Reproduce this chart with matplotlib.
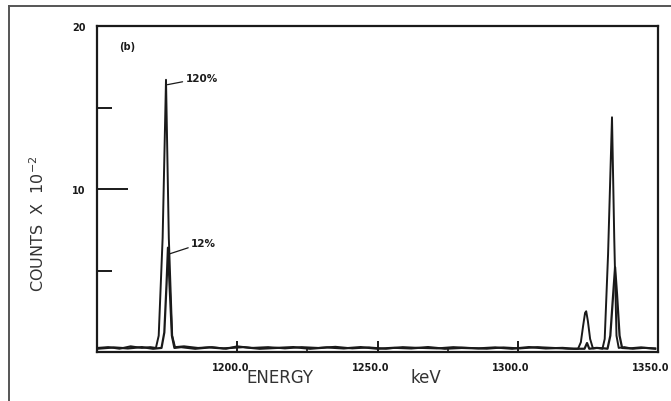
import matplotlib
matplotlib.use("Agg")
import matplotlib.pyplot as plt
from matplotlib.lines import Line2D
from matplotlib.transforms import ScaledTranslation

# ---- data (energy keV, counts x 10^-2) ----
E120 = [1150, 1154, 1158, 1162, 1166, 1169, 1171.0, 1172.0, 1173.4, 1174.6, 1175.6,
        1176.8, 1177.8, 1181, 1186, 1191, 1196, 1200, 1205, 1211, 1217, 1223, 1229,
        1235, 1241, 1247, 1253, 1259, 1265, 1271, 1277, 1283, 1289, 1295, 1301,
        1307, 1313, 1318, 1321.5, 1322.5, 1323.3, 1324.0, 1324.4, 1325.0, 1325.8,
        1326.8, 1328.5, 1330.2, 1331.0, 1332.2, 1333.6, 1334.4, 1335.2, 1336.0,
        1338, 1341, 1345, 1349]
C120 = [0.25, 0.30, 0.20, 0.35, 0.25, 0.30, 0.25, 1.0, 7.0, 16.7, 7.0,
        1.0, 0.30, 0.35, 0.25, 0.30, 0.20, 0.35, 0.25, 0.30, 0.22, 0.30, 0.25,
        0.32, 0.22, 0.28, 0.20, 0.30, 0.25, 0.22, 0.30, 0.25, 0.20, 0.28, 0.22,
        0.30, 0.25, 0.20, 0.20, 0.6, 1.6, 2.4, 2.5, 1.9, 0.8,
        0.22, 0.25, 0.20, 0.8, 6.0, 14.4, 7.0, 1.0, 0.25,
        0.30, 0.20, 0.25, 0.22]

E12 = [1150, 1156, 1161, 1166, 1170, 1173.0, 1174.0, 1174.8, 1175.3, 1175.9, 1176.7,
       1177.6, 1180, 1185, 1190, 1195, 1202, 1208, 1214, 1220, 1226, 1232, 1238,
       1244, 1250, 1256, 1262, 1268, 1274, 1280, 1286, 1292, 1298, 1304, 1310,
       1316, 1320, 1323.8, 1324.7, 1325.5, 1328, 1331, 1332.0, 1333.0, 1334.0,
       1334.7, 1335.4, 1336.3, 1337.2, 1340, 1344, 1349]
C12 = [0.20, 0.28, 0.22, 0.30, 0.20, 0.25, 1.2, 4.2, 6.4, 4.0, 1.0,
       0.25, 0.30, 0.20, 0.28, 0.22, 0.30, 0.20, 0.25, 0.30, 0.20, 0.28, 0.22,
       0.30, 0.20, 0.26, 0.22, 0.30, 0.20, 0.25, 0.22, 0.28, 0.20, 0.30, 0.22,
       0.25, 0.20, 0.20, 0.55, 0.20, 0.25, 0.22, 0.20, 1.0, 3.5,
       5.2, 3.5, 1.0, 0.25, 0.22, 0.28, 0.20]

x_major = [1200, 1250, 1300, 1350]
x_major_labels = ["1200.0", "1250.0", "1300.0", "1350.0"]
x_minor = [1225, 1275]
y_major = [10, 20]
y_major_labels = ["10", "20"]
y_minor = [5, 15]

ink = "#1a1a1a"

fig = plt.figure(figsize=(6.71, 4.02), dpi=100)
ax = fig.add_axes([97 / 671, 1 - 353 / 402, (658 - 97) / 671, (353 - 27) / 402])

ax.plot(E120, C120, color=ink, lw=1.4)
ax.plot(E12, C12, color=ink, lw=1.6)

ax.set_xlim(1150, 1350)
ax.set_ylim(0, 20)

for s in ax.spines.values():
    s.set_linewidth(1.6)
    s.set_color(ink)

ax.set_xticks(x_major)
ax.set_xticklabels(x_major_labels, fontsize=7, fontweight="bold", color=ink)
ax.set_xticks(x_minor, minor=True)
ax.set_yticks(y_major)
ax.set_yticklabels(y_major_labels, fontsize=7, fontweight="bold", color=ink)
ax.set_yticks(y_minor, minor=True)

ax.tick_params(axis="x", which="major", direction="in", length=8, width=1.4, pad=7, color=ink)
ax.tick_params(axis="x", which="minor", direction="in", length=3, width=1.2, color=ink)
ax.tick_params(axis="y", which="major", direction="in", length=22, width=1.4, pad=8, color=ink)
ax.tick_params(axis="y", which="minor", direction="in", length=11, width=1.4, color=ink)

off = ScaledTranslation(-7 / 100, 0, fig.dpi_scale_trans)
for lab in ax.get_xticklabels():
    lab.set_transform(lab.get_transform() + off)

# annotations
ax.text(1158, 18.8, "(b)", fontsize=7, fontweight="bold", color=ink, va="center")
ax.annotate("120%", xy=(1175.1, 16.4), xytext=(1181.5, 16.8), fontsize=7.5,
            fontweight="bold", color=ink, va="center",
            arrowprops=dict(arrowstyle="-", color=ink, lw=0.9, shrinkA=0, shrinkB=0))
ax.annotate("12%", xy=(1175.5, 6.0), xytext=(1183.5, 6.7), fontsize=7.5,
            fontweight="bold", color=ink, va="center",
            arrowprops=dict(arrowstyle="-", color=ink, lw=0.9, shrinkA=0, shrinkB=0))

# axis titles
fig.text(38 / 671, 1 - 224 / 402, r"COUNTS  X  10$^{\mathregular{-2}}$", rotation=90,
         ha="center", va="center", fontsize=11.5, color="#333333")
fig.text(246 / 671, 1 - 383 / 402, "ENERGY", fontsize=12, color="#333333",
         ha="left", va="baseline")
fig.text(410 / 671, 1 - 383 / 402, "keV", fontsize=12, color="#333333",
         ha="left", va="baseline")

# outer frame (left and top edges)
fig.add_artist(Line2D([9 / 671, 9 / 671], [0, 1 - 7 / 402], transform=fig.transFigure,
                      color="#555555", lw=1.4))
fig.add_artist(Line2D([9 / 671, 1], [1 - 7 / 402, 1 - 7 / 402], transform=fig.transFigure,
                      color="#555555", lw=1.4))

fig.savefig("out.png", dpi=100)
